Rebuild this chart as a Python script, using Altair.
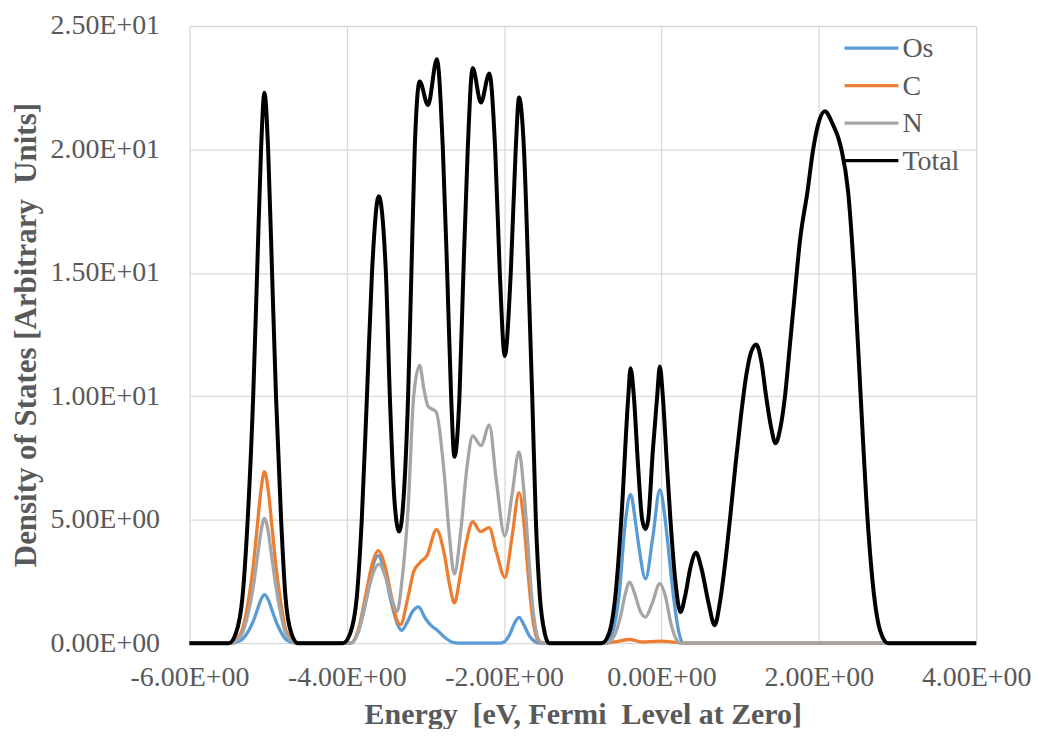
import altair as alt
import pandas as pd

# ---------------- data ----------------
series_names = ["Os", "C", "N", "Total"]
series_colors = ["#5B9BD5", "#ED7D31", "#A5A5A5", "#000000"]

total_pts = [(-6.0, 0), (-5.5, 0), (-5.41, 0.4), (-5.325, 1.9), (-5.26, 5.0), (-5.19, 10.0), (-5.14, 15.0),
             (-5.09, 20.0), (-5.047, 22.3), (-5.0, 20.0), (-4.95, 15.0), (-4.9, 10.0), (-4.835, 5.0),
             (-4.78, 1.9), (-4.705, 0.4), (-4.62, 0),
             (-4.05, 0), (-3.957, 0.4), (-3.872, 1.9), (-3.81, 5.0), (-3.744, 10.0), (-3.68, 15.0),
             (-3.594, 18.1), (-3.503, 15.0), (-3.453, 10.0), (-3.39, 5.6), (-3.335, 4.52), (-3.28, 5.8),
             (-3.221, 10.0), (-3.179, 15.0), (-3.137, 20.0), (-3.074, 22.75), (-2.968, 21.8), (-2.855, 23.65),
             (-2.779, 20.0), (-2.724, 15.0), (-2.674, 10.0), (-2.632, 7.55), (-2.568, 10.0), (-2.518, 15.0),
             (-2.463, 20.0), (-2.40, 23.3), (-2.295, 21.9), (-2.189, 23.08), (-2.114, 20.0), (-2.055, 15.0),
             (-1.992, 11.63), (-1.916, 15.0), (-1.853, 20.0), (-1.811, 22.1), (-1.748, 20.0), (-1.693, 15.0),
             (-1.643, 10.0), (-1.597, 5.0), (-1.546, 1.9), (-1.483, 0.4), (-1.43, 0),
             (-0.76, 0), (-0.667, 0.4), (-0.583, 2.0), (-0.511, 5.0), (-0.422, 10.0), (-0.393, 11.14),
             (-0.351, 10.0), (-0.30, 7.3), (-0.245, 5.0), (-0.203, 4.62), (-0.169, 5.0), (-0.11, 7.8),
             (-0.055, 10.0), (-0.021, 11.21), (0.017, 10.0), (0.07, 7.2), (0.114, 5.0), (0.18, 2.4),
             (0.241, 1.26), (0.30, 1.9), (0.37, 3.1), (0.439, 3.66), (0.51, 3.0), (0.6, 1.6), (0.676, 0.73),
             (0.74, 1.6), (0.80, 3.0), (0.87, 5.0), (0.94, 7.2), (1.01, 9.2), (1.08, 10.9), (1.14, 11.8),
             (1.205, 12.1), (1.27, 11.4), (1.33, 10.0), (1.39, 8.8), (1.45, 8.1), (1.51, 8.7), (1.57, 10.0),
             (1.63, 12.0), (1.69, 14.0), (1.76, 16.3), (1.856, 18.3), (1.928, 20.0), (1.99, 21.0),
             (2.076, 21.55), (2.18, 21.0), (2.245, 20.5), (2.287, 20.0), (2.372, 18.3), (2.448, 15.0),
             (2.532, 10.0), (2.62, 5.0), (2.70, 2.0), (2.78, 0.5), (2.88, 0), (4.0, 0)]

os_pts = [(-6.0, 0), (-5.45, 0), (-5.41, 0.04), (-5.325, 0.17), (-5.26, 0.44), (-5.19, 0.88), (-5.14, 1.33),
          (-5.09, 1.77), (-5.047, 1.97), (-5.0, 1.77), (-4.95, 1.33), (-4.9, 0.88), (-4.835, 0.44),
          (-4.78, 0.17), (-4.705, 0.04), (-4.65, 0),
          (-3.95, 0), (-3.85, 0.5), (-3.75, 1.8), (-3.68, 3.0), (-3.6, 3.55), (-3.52, 2.9), (-3.43, 1.6),
          (-3.36, 0.8), (-3.305, 0.52), (-3.24, 0.8), (-3.16, 1.3), (-3.09, 1.47), (-3.0, 1.0), (-2.93, 0.72),
          (-2.85, 0.52), (-2.75, 0.22), (-2.65, 0.03), (-2.58, 0),
          (-2.06, 0), (-2.0, 0.05), (-1.93, 0.35), (-1.87, 0.8), (-1.81, 1.05), (-1.75, 0.75), (-1.68, 0.3),
          (-1.6, 0.05), (-1.55, 0),
          (-0.70, 0), (-0.625, 0.4), (-0.54, 1.9), (-0.456, 5.0), (-0.393, 6.03), (-0.33, 4.9), (-0.287, 3.9),
          (-0.203, 2.61), (-0.11, 4.3), (-0.021, 6.21), (0.04, 5.2), (0.072, 4.3), (0.156, 1.8), (0.22, 0.45),
          (0.283, 0), (4.0, 0)]

c_pts = [(-6.0, 0), (-5.45, 0), (-5.41, 0.12), (-5.325, 0.59), (-5.26, 1.56), (-5.19, 3.11), (-5.14, 4.68),
         (-5.09, 6.23), (-5.047, 6.95), (-5.0, 6.23), (-4.95, 4.68), (-4.9, 3.11), (-4.835, 1.56),
         (-4.78, 0.59), (-4.705, 0.12), (-4.65, 0),
         (-3.95, 0), (-3.85, 0.6), (-3.75, 2.1), (-3.67, 3.3), (-3.6, 3.75), (-3.52, 3.2), (-3.44, 2.0),
         (-3.37, 1.0), (-3.318, 0.75), (-3.22, 1.9), (-3.15, 2.9), (-3.074, 3.25), (-2.98, 3.55), (-2.86, 4.6),
         (-2.76, 3.6), (-2.69, 2.3), (-2.632, 1.63), (-2.56, 2.7), (-2.48, 4.1), (-2.4, 4.92), (-2.3, 4.52),
         (-2.19, 4.68), (-2.1, 3.7), (-1.99, 2.67), (-1.9, 4.3), (-1.81, 6.1), (-1.75, 4.9), (-1.7, 3.0),
         (-1.65, 1.3), (-1.6, 0.35), (-1.55, 0.05), (-1.5, 0),
         (-0.75, 0), (-0.6, 0.05), (-0.4, 0.15), (-0.25, 0.05), (-0.02, 0.08), (0.2, 0.03), (0.3, 0), (4.0, 0)]

n_pts = [(-6.0, 0), (-5.45, 0), (-5.41, 0.09), (-5.325, 0.43), (-5.26, 1.13), (-5.19, 2.27), (-5.14, 3.4),
         (-5.09, 4.54), (-5.047, 5.06), (-5.0, 4.54), (-4.95, 3.4), (-4.9, 2.27), (-4.835, 1.13),
         (-4.78, 0.43), (-4.705, 0.09), (-4.65, 0),
         (-3.95, 0), (-3.85, 0.5), (-3.75, 1.8), (-3.67, 2.8), (-3.59, 3.2), (-3.51, 2.7), (-3.43, 1.8),
         (-3.36, 1.28), (-3.3, 2.5), (-3.22, 5.5), (-3.15, 10.0), (-3.074, 11.25), (-3.02, 10.3),
         (-2.968, 9.6), (-2.863, 9.36), (-2.76, 6.8), (-2.7, 4.5), (-2.632, 2.8), (-2.55, 4.6), (-2.47, 7.2),
         (-2.4, 8.4), (-2.295, 8.0), (-2.189, 8.83), (-2.1, 6.6), (-1.992, 4.35), (-1.9, 6.0), (-1.811, 7.75),
         (-1.75, 6.2), (-1.70, 4.1), (-1.65, 1.9), (-1.6, 0.6), (-1.54, 0.05), (-1.5, 0),
         (-0.70, 0), (-0.6, 0.3), (-0.52, 1.1), (-0.46, 2.0), (-0.406, 2.47), (-0.34, 2.0), (-0.27, 1.3),
         (-0.203, 1.06), (-0.12, 1.6), (-0.021, 2.41), (0.05, 1.9), (0.12, 0.8), (0.19, 0.15), (0.25, 0),
         (4.0, 0)]

x_ticks = [-6, -4, -2, 0, 2, 4]
x_tick_labels = ["-6.00E+00", "-4.00E+00", "-2.00E+00", "0.00E+00", "2.00E+00", "4.00E+00"]
y_ticks = [0, 5, 10, 15, 20, 25]
y_tick_labels = ["0.00E+00", "5.00E+00", "1.00E+01", "1.50E+01", "2.00E+01", "2.50E+01"]

x_title = "Energy\u00a0 [eV, Fermi\u00a0 Level at Zero]"
y_title = "Density of States [Arbitrary\u00a0 Units]"

# ---------------- build table ----------------
rows = []
for name, pts in zip(series_names, [os_pts, c_pts, n_pts, total_pts]):
    for e, v in pts:
        rows.append({"series": name, "energy": e, "dos": v})
df = pd.DataFrame(rows)


def label_expr(vals, labels):
    parts = [f"datum.value == {v} ? '{l}'" for v, l in zip(vals, labels)]
    return " : ".join(parts) + " : ''"


FONT = "Liberation Serif"
TXT = "#595959"
GRID = "#D9D9D9"

color_scale = alt.Scale(domain=series_names, range=series_colors)

x_enc = alt.X("energy:Q", scale=alt.Scale(domain=[-6, 4], nice=False),
              axis=alt.Axis(values=x_ticks, labelExpr=label_expr(x_ticks, x_tick_labels),
                            title=x_title, titleY=72, titleBaseline="middle", titleFontSize=30,
                            labelPadding=20, labelFlush=False))
y_enc = alt.Y("dos:Q", scale=alt.Scale(domain=[0, 25], nice=False),
              axis=alt.Axis(values=y_ticks, labelExpr=label_expr(y_ticks, y_tick_labels),
                            title=y_title, titleX=-163, titleY=309.5, titleBaseline="middle",
                            titleAlign="center", titleAngle=-90, titleFontSize=31, labelPadding=30))

layers = []
for name in series_names:
    sw = 4 if name == "Total" else 3.3
    layers.append(
        alt.Chart(df).transform_filter(alt.datum.series == name)
        .mark_line(interpolate="monotone", strokeWidth=sw)
        .encode(x=x_enc, y=y_enc,
                color=alt.Color("series:N", scale=color_scale, legend=None))
    )

# ---------------- legend (inside the plot, top right) ----------------
leg_df = pd.DataFrame({"series": series_names, "i": list(range(len(series_names)))})
leg_base = alt.Chart(leg_df).transform_calculate(ly="24.1 - 1.518 * datum.i")
leg_rules = leg_base.mark_rule(strokeWidth=3.3).encode(
    x=alt.value(657), x2=alt.value(711),
    y=alt.Y("ly:Q"),
    color=alt.Color("series:N", scale=color_scale, legend=None),
)
leg_text = leg_base.mark_text(align="left", baseline="middle", font=FONT, fontSize=28,
                              color=TXT, dy=1).encode(
    x=alt.value(715), y=alt.Y("ly:Q"), text="series:N"
)

chart = alt.layer(*layers, leg_rules, leg_text).properties(
    width=789, height=619,
    autosize=alt.AutoSizeParams(type="none"),
    padding={"left": 182, "top": 17, "right": 55, "bottom": 85},
).configure_view(stroke=None).configure_axis(
    grid=True, gridColor=GRID, gridWidth=1.3, domain=False, ticks=False,
    labelFont=FONT, labelFontSize=28, labelColor=TXT,
    titleFont=FONT, titleFontSize=30, titleFontWeight="bold", titleColor=TXT,
)

chart.save("out.html", embed_options={"renderer": "svg", "actions": False})
